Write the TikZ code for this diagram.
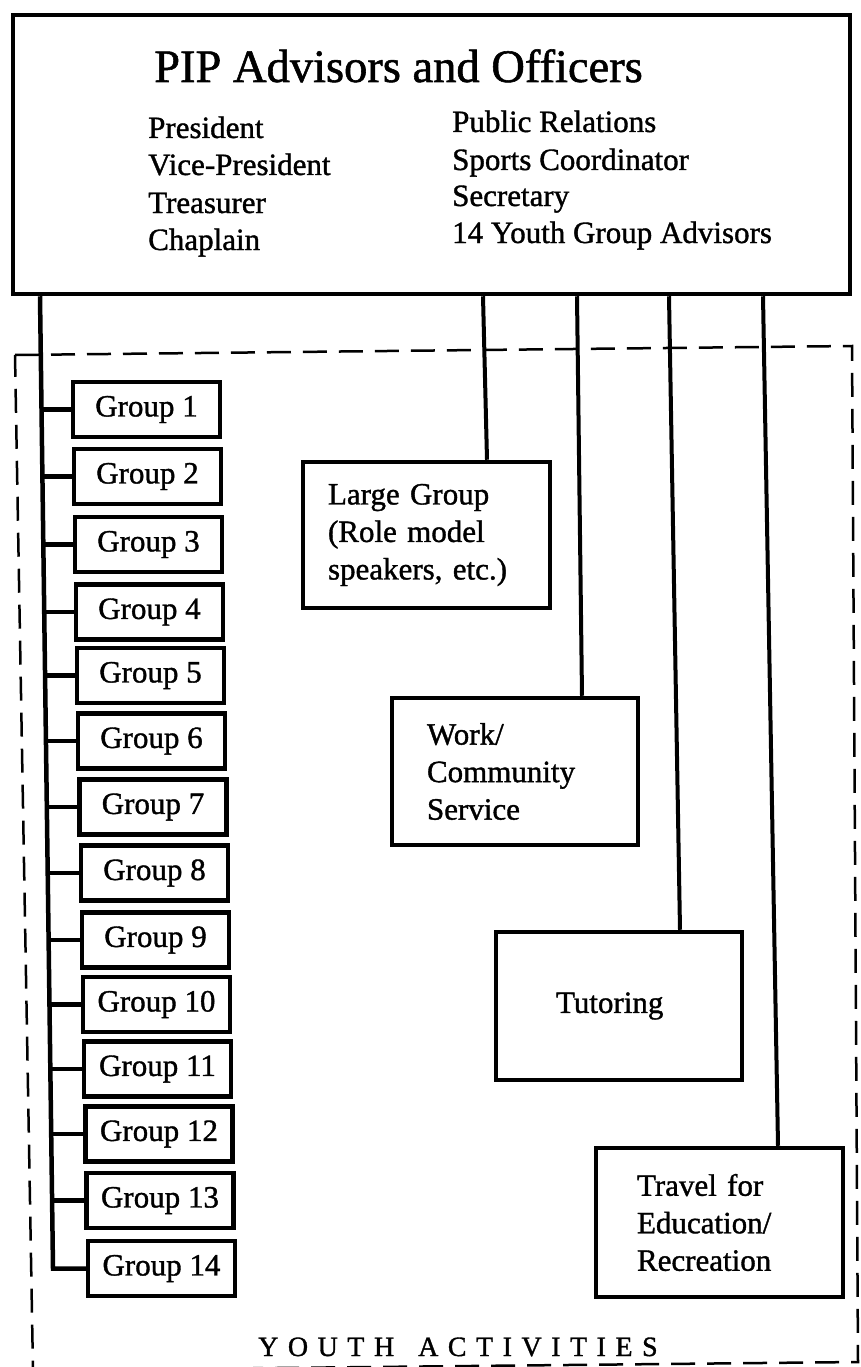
\documentclass[tikz,border=0pt]{standalone}
\usepackage{fontspec}
\setmainfont[FakeBold=1.2]{Liberation Serif}
\newcommand\lsp{\kern 9.5pt}
\begin{document}
\begin{tikzpicture}[x=1pt,y=-1pt,
  box/.style={draw,line width=4.5pt,inner sep=0pt},
  grp/.style={box,minimum width=147pt,minimum height=55pt,font=\fontsize{31}{37.5}\selectfont},
  act/.style={box,align=left,inner ysep=0pt,font=\fontsize{31}{37.5}\selectfont},
  conn/.style={line width=4pt},
  trunkline/.style={line width=4.5pt,line join=miter},
  border/.style={line width=2.5pt,dash pattern=on 24pt off 12pt},
  item/.style={anchor=base west,inner sep=0pt,font=\fontsize{31}{37.5}\selectfont}]
\useasboundingbox (0,0) rectangle (860,1367);
\fill[white] (0,0) rectangle (860,1367);
\clip (0,0) rectangle (860,1367);

% dashed frame of youth activities
\draw[border] (15,355) -- (852,346) -- (858,1362) -- (33,1370.5) -- cycle;

% top box
\node[box,minimum width=837pt,minimum height=279pt] (top) at (431.5,154.5) {};
\node[anchor=base west,inner sep=0pt,font=\fontsize{46.5}{50}\selectfont] (title) at (154,82) {PIP Advisors and Officers};
\node[item] (o1) at (148,138) {President};
\node[item] (o2) at (148,175) {Vice-President};
\node[item] (o3) at (148,213) {Treasurer};
\node[item] (o4) at (148,250) {Chaplain};
\node[item] (o5) at (452,132) {Public Relations};
\node[item] (o6) at (452,170) {Sports Coordinator};
\node[item] (o7) at (452,206) {Secretary};
\node[item] (o8) at (452,243) {14 Youth Group Advisors};

% groups
\coordinate (ttop) at (40,0);
\foreach \i/\x/\y in {1/146.5/409.5, 2/147.5/476.5, 3/148.5/544.5, 4/149.5/612, 5/150.5/675.5, 6/151.5/741, 7/153/807, 8/154.5/873, 9/155.5/940, 10/156.5/1004.5, 11/157.5/1069, 12/159/1134, 13/160/1200.5, 14/161.5/1268.5}{
  \node[grp] (g\i) at (\x,\y) {Group \i};
  \pgfmathsetmacro\tx{40+13*(\y-294)/974.5}
  \coordinate (t\i) at (\tx,\y);
}
\draw[trunkline] (top.south -| ttop) -- (t14) -- (g14.west);
\foreach \i in {1,...,13}{
  \draw[trunkline] (t\i) -- (g\i.west);
}

% activity boxes
\node[act,text width=197pt,inner xsep=25pt,minimum height=146pt] (lg) at (426.5,535) {Large Group\\(Role model\\speakers, etc.)};
\node[act,text width=176pt,inner xsep=35pt,minimum height=147pt] (work) at (515,771.5) {Work/\\Community\\Service};
\node[act,text width=126pt,inner xsep=60pt,minimum height=148pt] (tut) at (619,1006) {Tutoring};
\node[act,text width=165pt,inner xsep=41pt,minimum height=149pt] (trav) at (719.5,1222.5) {Travel for\\Education/\\Recreation};

% connectors
\coordinate (c1a) at (483,0); \coordinate (c1b) at (487,0);
\coordinate (c2a) at (577,0); \coordinate (c2b) at (582,0);
\coordinate (c3a) at (669,0); \coordinate (c3b) at (680,0);
\coordinate (c4a) at (763,0); \coordinate (c4b) at (778,0);
\draw[conn] (top.south -| c1a) -- (lg.north -| c1b);
\draw[conn] (top.south -| c2a) -- (work.north -| c2b);
\draw[conn] (top.south -| c3a) -- (tut.north -| c3b);
\draw[conn] (top.south -| c4a) -- (trav.north -| c4b);

% label
\node[anchor=base west,inner sep=0pt,font=\fontsize{28}{30}\selectfont] (ya) at (258,1356)
  {Y\lsp O\lsp U\lsp T\lsp H\kern 24pt A\lsp C\lsp T\lsp I\lsp V\lsp I\lsp T\lsp I\lsp E\lsp S};
\end{tikzpicture}
\end{document}
